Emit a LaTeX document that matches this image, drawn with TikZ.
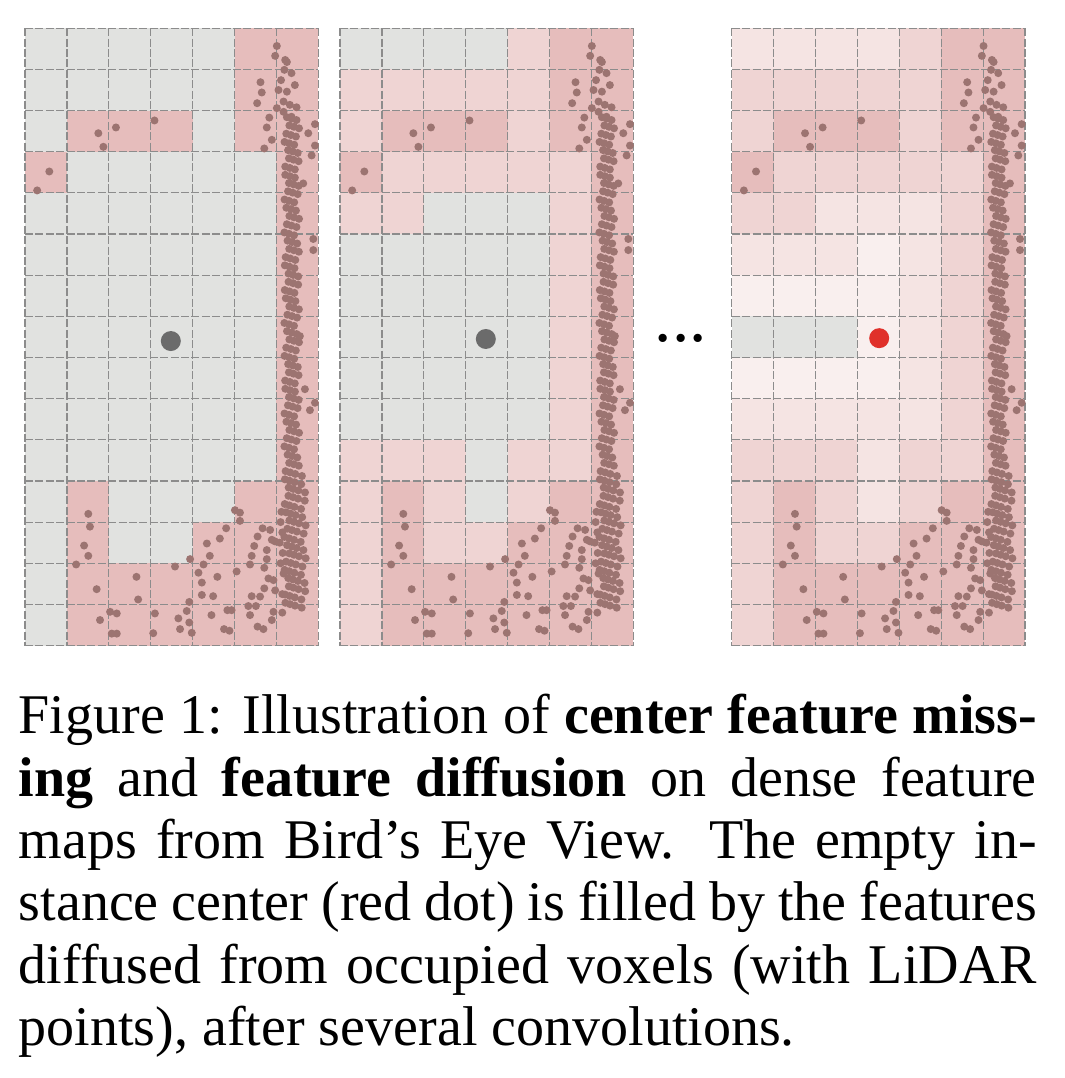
\documentclass[tikz,border=0pt]{standalone}
\usepackage{fontspec}
\setmainfont{Liberation Serif}

\definecolor{gr}{HTML}{E1E2E0}
\definecolor{oc}{HTML}{E6BDBC}
\definecolor{d1}{HTML}{EFD4D3}
\definecolor{d2}{HTML}{F5E4E3}
\definecolor{d3}{HTML}{F9EFEE}
\definecolor{ptbrown}{HTML}{9C7471}
\definecolor{ctrgray}{HTML}{6B6B6B}
\definecolor{ctrred}{HTML}{E0302A}

% one BEV map: rows of cell colours, then the dashed grid
\newcommand{\voxelmap}[1]{%
  \foreach \r/\cells in {#1}{\foreach \col [count=\i from 0] in \cells \fill[\col] (\i,\r) rectangle ++(1,1);}
  \foreach \i in {0,...,7} \draw[gridline] (\i,0) -- (\i,15);
  \foreach \j in {0,...,15} \draw[gridline] (0,\j) -- (7,\j);
}

% the same LiDAR points in every map
\newcommand{\lidarpoints}{%
  \foreach \u/\v in {6.01/0.43, 5.97/0.67, 6.21/0.77, 6.25/0.82, 6.19/1.01, 6.36/1.09, 6.11/1.26, 6.44/1.38,
    5.62/1.31, 5.65/1.56, 5.54/1.82, 6.05/1.50, 6.25/1.54, 6.01/1.94, 6.17/1.78, 6.32/1.86, 6.48/1.92,
    6.17/2.03, 6.36/2.15, 5.83/2.17, 5.77/2.41, 5.89/2.71, 5.71/2.92, 6.76/2.55, 6.92/2.33, 6.92/2.85,
    6.84/3.09, 6.64/3.77, 6.88/5.12, 6.88/5.39, 6.56/7.48, 6.68/8.77, 6.92/9.10, 6.80/9.28,
    1.75/2.55, 1.87/2.88, 2.17/2.41, 3.09/2.24, 0.58/3.48, 0.29/3.94,
    5.01/11.71, 5.13/11.77, 5.13/11.97, 4.80/12.15, 4.65/12.40, 4.34/12.52, 4.41/12.82, 3.94/12.90,
    4.26/13.03, 3.58/13.08, 4.14/13.23, 4.22/13.47, 4.59/13.33, 4.22/13.77, 4.49/13.80, 5.05/13.20,
    3.92/13.94, 3.86/14.16, 3.66/14.34, 3.92/14.44, 3.70/14.60, 3.98/14.69, 4.45/14.26, 4.83/14.14,
    4.93/14.14, 4.75/14.60, 4.88/14.64, 2.66/13.33, 2.70/13.88, 3.10/14.22, 3.06/14.70, 2.03/14.18,
    2.19/14.22, 2.07/14.71, 2.19/14.71, 1.79/14.38, 1.71/13.63, 1.51/11.80, 1.55/12.11, 1.41/12.57,
    1.51/12.82, 1.22/13.03,
    5.67/12.15, 5.85/12.19, 5.55/12.35, 5.89/12.43, 5.47/12.58, 5.77/12.68, 5.97/12.47, 5.41/12.82,
    5.77/12.90, 5.37/13.03, 5.71/13.11, 5.81/13.37, 5.93/13.41, 5.71/13.61, 5.97/13.66, 5.41/13.80,
    5.61/13.81, 5.33/14.04, 5.51/14.04, 5.37/14.26, 5.93/14.18, 5.89/14.38, 5.55/14.54, 5.69/14.60,
    6.12/11.75, 6.10/12.00, 6.14/12.25, 6.08/12.50, 6.15/12.75, 6.10/13.00, 6.17/13.25, 6.14/13.75, 6.14/14.20}
    \fill[lidarpt] (\u,\v) circle[radius=1pt];
  \foreach \k in {0,...,59}{%
    \pgfmathsetmacro\v{2.2+0.2*\k}
    \pgfmathsetmacro\c{6.38+0.06*sin(\k*97)}
    \foreach \d in {-0.13,-0.02,0.1} \fill[lidarpt] (\c+\d,\v+0.3*\d) circle[radius=1pt];
    \ifnum\k>42 \fill[lidarpt] (\c+0.26,\v+0.08) circle[radius=1pt];\fi
  }
}

\begin{document}
\begin{tikzpicture}[x=10.475pt,y=-10.2875pt,
  gridline/.style={draw=black!45,line width=0.3pt,dash pattern=on 2pt off 0.6pt},
  lidarpt/.style={fill=ptbrown}]
\useasboundingbox (0,0) rectangle (25.394,26.197);

% map 1: only occupied voxels
\begin{scope}[shift={(0.597,0.688)}]
\voxelmap{0/{gr,gr,gr,gr,gr,oc,oc}, 1/{gr,gr,gr,gr,gr,oc,oc}, 2/{gr,oc,oc,oc,gr,oc,oc}, 3/{oc,gr,gr,gr,gr,gr,oc},
  4/{gr,gr,gr,gr,gr,gr,oc}, 5/{gr,gr,gr,gr,gr,gr,oc}, 6/{gr,gr,gr,gr,gr,gr,oc}, 7/{gr,gr,gr,gr,gr,gr,oc},
  8/{gr,gr,gr,gr,gr,gr,oc}, 9/{gr,gr,gr,gr,gr,gr,oc}, 10/{gr,gr,gr,gr,gr,gr,oc}, 11/{gr,oc,gr,gr,gr,oc,oc},
  12/{gr,oc,gr,gr,oc,oc,oc}, 13/{gr,oc,oc,oc,oc,oc,oc}, 14/{gr,oc,oc,oc,oc,oc,oc}}
\lidarpoints
\fill[ctrgray] (3.48,7.6) circle[radius=2.5pt];
\end{scope}

% map 2: after one convolution
\begin{scope}[shift={(8.115,0.688)}]
\voxelmap{0/{gr,gr,gr,gr,d1,oc,oc}, 1/{d1,d1,d1,d1,d1,oc,oc}, 2/{d1,oc,oc,oc,d1,oc,oc}, 3/{oc,d1,d1,d1,d1,d1,oc},
  4/{d1,d1,gr,gr,gr,d1,oc}, 5/{gr,gr,gr,gr,gr,d1,oc}, 6/{gr,gr,gr,gr,gr,d1,oc}, 7/{gr,gr,gr,gr,gr,d1,oc},
  8/{gr,gr,gr,gr,gr,d1,oc}, 9/{gr,gr,gr,gr,gr,d1,oc}, 10/{d1,d1,d1,gr,d1,d1,oc}, 11/{d1,oc,d1,gr,d1,oc,oc},
  12/{d1,oc,d1,d1,oc,oc,oc}, 13/{d1,oc,oc,oc,oc,oc,oc}, 14/{d1,oc,oc,oc,oc,oc,oc}}
\lidarpoints
\fill[ctrgray] (3.48,7.55) circle[radius=2.5pt];
\end{scope}

\node[anchor=base,inner sep=0] (dots) at (16.246,8.29) {\fontsize{17.3}{17}\selectfont...};

% map 3: after several convolutions
\begin{scope}[shift={(17.463,0.688)}]
\voxelmap{0/{d2,d2,d2,d2,d1,oc,oc}, 1/{d1,d1,d1,d1,d1,oc,oc}, 2/{d1,oc,oc,oc,d1,oc,oc}, 3/{oc,d1,d1,d1,d1,d1,oc},
  4/{d1,d1,d2,d2,d2,d1,oc}, 5/{d2,d2,d2,d3,d2,d1,oc}, 6/{d3,d3,d3,d3,d2,d1,oc}, 7/{gr,gr,gr,d3,d2,d1,oc},
  8/{d3,d3,d3,d3,d2,d1,oc}, 9/{d2,d2,d2,d2,d2,d1,oc}, 10/{d1,d1,d1,d2,d1,d1,oc}, 11/{d1,oc,d1,d2,d1,oc,oc},
  12/{d1,oc,d1,d1,oc,oc,oc}, 13/{d1,oc,oc,oc,oc,oc,oc}, 14/{d1,oc,oc,oc,oc,oc,oc}}
\lidarpoints
\fill[ctrred] (3.52,7.53) circle[radius=2.5pt];
\end{scope}

\node[anchor=north west,inner sep=0,text width=254.5pt,align=justify,font=\fontsize{14}{15.6}\selectfont] (caption) at (0.43,16.85)
{Figure 1: Illustration of \textbf{center feature miss-\linebreak ing} and \textbf{feature diffusion} on dense feature\linebreak
maps from Bird's Eye View.  The empty in-\linebreak stance center (red dot) is filled by the features\linebreak
diffused from occupied voxels (with LiDAR\linebreak points), after several convolutions.};
\end{tikzpicture}
\end{document}
